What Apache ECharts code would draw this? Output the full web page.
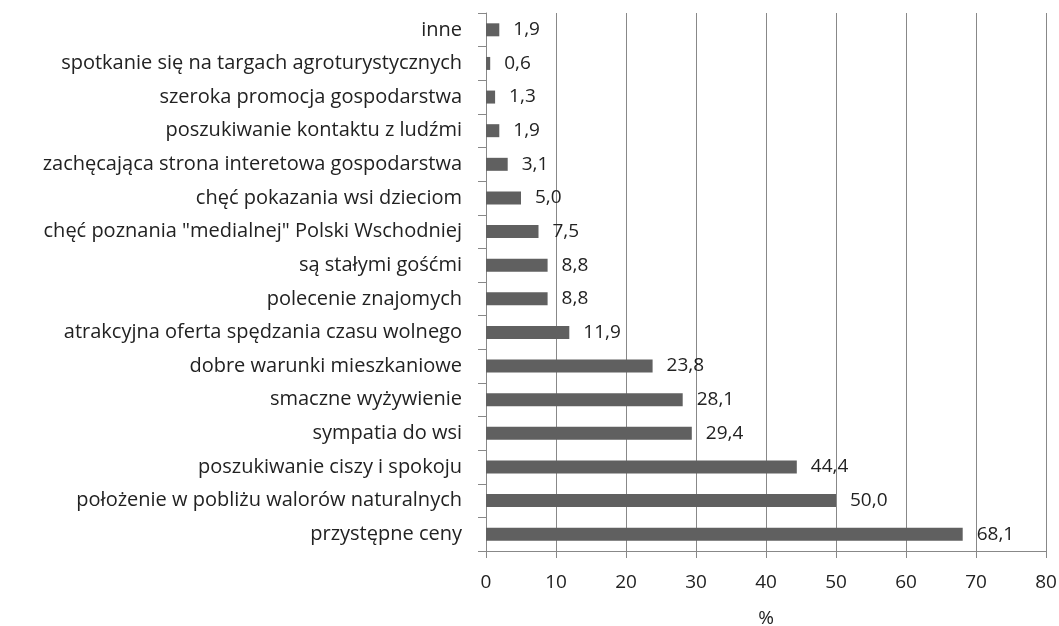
<!DOCTYPE html>
<html>
<head>
<meta charset="utf-8">
<script src="https://cdn.jsdelivr.net/npm/echarts@6/dist/echarts.min.js"></script>
<style>
  html, body { margin: 0; padding: 0; background: #fff; }
  #chart { width: 1059px; height: 626px; }
</style>
</head>
<body>
<div id="chart"></div>
<script>
// od dołu do góry, jak na wykresie
const categories = [
  'przystępne ceny',
  'położenie w pobliżu walorów naturalnych',
  'poszukiwanie ciszy i spokoju',
  'sympatia do wsi',
  'smaczne wyżywienie',
  'dobre warunki mieszkaniowe',
  'atrakcyjna oferta spędzania czasu wolnego',
  'polecenie znajomych',
  'są stałymi gośćmi',
  'chęć poznania "medialnej" Polski Wschodniej',
  'chęć pokazania wsi dzieciom',
  'zachęcająca strona interetowa gospodarstwa',
  'poszukiwanie kontaktu z ludźmi',
  'szeroka promocja gospodarstwa',
  'spotkanie się na targach agroturystycznych',
  'inne'
]
const values = [68.1, 50.0, 44.4, 29.4, 28.1, 23.8, 11.9, 8.8, 8.8, 7.5, 5.0, 3.1, 1.9, 1.3, 0.6, 1.9]
const xTicks = [0, 10, 20, 30, 40, 50, 60, 70, 80]

const font = 'Open Sans'
const chart = echarts.init(document.getElementById('chart'))

chart.setOption({
  animation: false,
  grid: { left: 486, right: 13, top: 13, bottom: 75, containLabel: false, outerBoundsMode: 'none' },
  xAxis: {
    type: 'value',
    min: xTicks[0],
    max: xTicks[xTicks.length - 1],
    interval: 10,
    name: '%',
    nameLocation: 'middle',
    nameGap: 58,
    nameTextStyle: { fontFamily: font, fontSize: 19, color: '#222' },
    axisLine: { show: true, lineStyle: { color: '#888', width: 1 } },
    axisTick: { show: true, length: 7, lineStyle: { color: '#888' } },
    axisLabel: { fontFamily: font, fontSize: 19, color: '#222', margin: 22 },
    splitLine: { show: true, lineStyle: { color: '#888', width: 1 } }
  },
  yAxis: {
    type: 'category',
    data: categories,
    axisLine: { show: true, lineStyle: { color: '#888', width: 1 } },
    axisTick: { show: true, length: 8, lineStyle: { color: '#888' } },
    axisLabel: { fontFamily: font, fontSize: 20, color: '#222', margin: 24 }
  },
  series: [{
    type: 'bar',
    data: values,
    barWidth: 13,
    itemStyle: { color: '#606060' },
    label: {
      show: true,
      position: 'right',
      distance: 14,
      fontFamily: font,
      fontSize: 19,
      color: '#222',
      formatter: p => p.value.toFixed(1).replace('.', ',')
    }
  }]
})
</script>
</body>
</html>
